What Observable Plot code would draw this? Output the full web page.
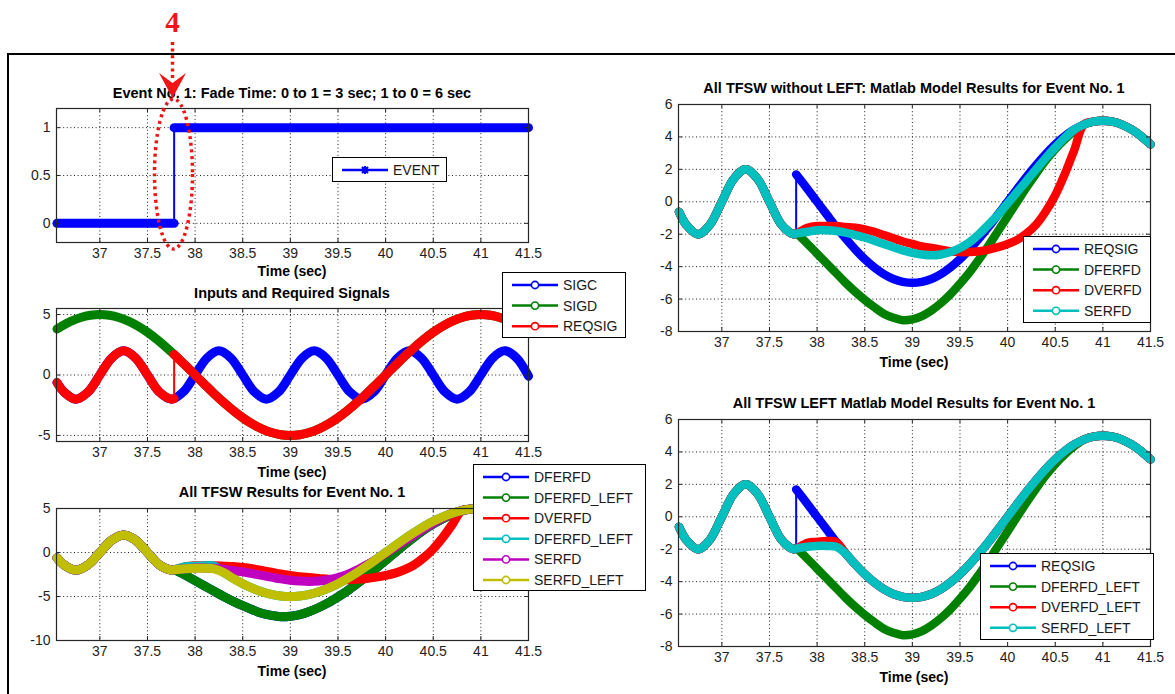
<!DOCTYPE html>
<html>
<head>
<meta charset="utf-8">
<script src="https://cdn.jsdelivr.net/npm/d3@7"></script>
<script src="https://cdn.jsdelivr.net/npm/@observablehq/plot@0.6"></script>
<style>
  body { margin: 0; background: #fff; }
  #fig { position: relative; width: 1175px; height: 694px; overflow: hidden; background: #fff;
         font-family: "Liberation Sans", Arial, Helvetica, sans-serif; }
  .frame { position: absolute; left: 7px; top: 53px; width: 1200px; height: 700px;
           border-left: 2px solid #000; border-top: 2px solid #000; }
  .txt { position: absolute; white-space: nowrap; transform: translate(-50%, -50%); color: #000; line-height: 1; }
  .legend { position: absolute; background: #fff; border: 1px solid #000; box-sizing: border-box; }
  .legend span { position: absolute; font-size: 14px; line-height: 1; transform: translateY(-50%); color: #1a1a1a; white-space: nowrap; }
  .legend svg { position: absolute; left: 0; top: 0; }
</style>
</head>
<body>
<div id="fig"><div class="frame"></div></div>
<script>
// ---------------- DATA ----------------
const xTicks = [37, 37.5, 38, 38.5, 39, 39.5, 40, 40.5, 41, 41.5];
const yTicksEvent = [0, 0.5, 1];
const yTicksInputs = [-5, 0, 5];
const yTicksAll = [-10, -5, 0, 5];
const yTicksRight = [-8, -6, -4, -2, 0, 2, 4, 6];
const switchTime = 37.78;

// EVENT step
const eventTime = [36.55, 37.78, 37.78, 41.5];
const eventValue = [0, 0, 1, 1];

// SIGC (fast signal)
const sigcTime = [36.55, 36.625, 36.75, 36.875, 37, 37.125, 37.25, 37.375, 37.5, 37.625, 37.75, 37.875,
  38, 38.125, 38.25, 38.375, 38.5, 38.625, 38.75, 38.875, 39, 39.125, 39.25, 39.375, 39.5, 39.625, 39.75, 39.875,
  40, 40.125, 40.25, 40.375, 40.5, 40.625, 40.75, 40.875, 41, 41.125, 41.25, 41.375, 41.5];
const sigcValue = [-0.62, -1.41, -2, -1.41, 0, 1.41, 2, 1.41, 0, -1.41, -2, -1.41,
  0, 1.41, 2, 1.41, 0, -1.41, -2, -1.41, 0, 1.41, 2, 1.41, 0, -1.41, -2, -1.41,
  0, 1.41, 2, 1.41, 0, -1.41, -2, -1.41, 0, 1.41, 2, 1.41, -0.1];

// SIGD before the switch
const sigdEarlyTime = [36.55, 36.6, 36.7, 36.8, 36.9, 37.0, 37.1, 37.2, 37.3, 37.4, 37.5, 37.6, 37.7];
const sigdEarlyValue = [3.8, 4.05, 4.46, 4.76, 4.94, 5, 4.94, 4.76, 4.46, 4.05, 3.54, 2.94, 2.27];

// common part before the switch (all outputs follow SIGC)
const preTime = [36.55, 36.625, 36.75, 36.875, 37, 37.125, 37.25, 37.375, 37.5, 37.625, 37.75, 37.78];
const preValue = [-0.62, -1.41, -2, -1.41, 0, 1.41, 2, 1.41, 0, -1.41, -2, -1.96];

// fade window
const fadeTime = [37.78, 37.9, 38.0, 38.1, 38.2, 38.3, 38.4, 38.5, 38.6, 38.7, 38.8, 38.9, 39.0, 39.1, 39.2,
  39.3, 39.4, 39.5, 39.6, 39.7, 39.8, 39.9, 40.0, 40.1, 40.2, 40.3, 40.4, 40.5, 40.6, 40.7, 40.8];
const reqsigFade = [1.69, 0.78, 0, -0.78, -1.55, -2.27, -2.94, -3.54, -4.05, -4.46, -4.76, -4.94, -5, -4.94, -4.76,
  -4.46, -4.05, -3.54, -2.94, -2.27, -1.55, -0.78, 0, 0.78, 1.55, 2.27, 2.94, 3.54, 4.05, 4.46, 4.76];
const dferfdFade = [-1.96, -2.6, -3.2, -3.8, -4.4, -5.0, -5.55, -6.05, -6.5, -6.9, -7.15, -7.3, -7.25, -7.05, -6.7,
  -6.25, -5.7, -5.05, -4.35, -3.55, -2.7, -1.8, -0.9, 0.0, 0.9, 1.75, 2.55, 3.25, 3.85, 4.35, 4.76];
const dverfdFade = [-1.96, -1.6, -1.5, -1.5, -1.5, -1.55, -1.6, -1.7, -1.85, -2.05, -2.25, -2.45, -2.6, -2.75, -2.85,
  -2.95, -3.05, -3.1, -3.1, -3.05, -2.95, -2.8, -2.6, -2.35, -1.95, -1.4, -0.6, 0.4, 1.7, 3.2, 4.76];
const serfdFade = [-1.96, -1.85, -1.75, -1.75, -1.8, -1.9, -2.05, -2.2, -2.4, -2.6, -2.8, -3.0, -3.15, -3.25, -3.3,
  -3.25, -3.1, -2.85, -2.5, -2.0, -1.4, -0.8, -0.1, 0.6, 1.3, 2.0, 2.7, 3.35, 3.95, 4.45, 4.76];
const dverfdLeftFade = [-1.96, -1.6, -1.55, -1.5, -1.55, -2.27, -2.94, -3.54, -4.05, -4.46, -4.76, -4.94, -5, -4.94, -4.76,
  -4.46, -4.05, -3.54, -2.94, -2.27, -1.55, -0.78, 0, 0.78, 1.55, 2.27, 2.94, 3.54, 4.05, 4.46, 4.76];
const serfdLeftFade = [-1.96, -1.85, -1.8, -1.8, -1.85, -2.27, -2.94, -3.54, -4.05, -4.46, -4.76, -4.94, -5, -4.94, -4.76,
  -4.46, -4.05, -3.54, -2.94, -2.27, -1.55, -0.78, 0, 0.78, 1.55, 2.27, 2.94, 3.54, 4.05, 4.46, 4.76];

// after the fade (all outputs follow SIGD)
const postTime = [40.9, 41.0, 41.1, 41.2, 41.3, 41.4, 41.5];
const postValue = [4.94, 5, 4.94, 4.76, 4.46, 4.05, 3.54];

// legend labels
const legendEvent = ["EVENT"];
const legendInputs = ["SIGC", "SIGD", "REQSIG"];
const legendAll = ["DFERFD", "DFERFD_LEFT", "DVERFD", "DFERFD_LEFT", "SERFD", "SERFD_LEFT"];
const legendNoLeft = ["REQSIG", "DFERFD", "DVERFD", "SERFD"];
const legendLeft = ["REQSIG", "DFERFD_LEFT", "DVERFD_LEFT", "SERFD_LEFT"];

// ---------------- BUILD ----------------
const C = {blue: "#0000ff", green: "#008000", red: "#ff0000", cyan: "#00bfbf", magenta: "#bf00bf", yellow: "#bfbf00"};
const xDomain = [36.545, 41.5];
const FONT = '"Liberation Sans", Arial, Helvetica, sans-serif';
const fig = document.getElementById("fig");

function rowsFrom(parts) {
  const out = [];
  for (const [ts, vs, seg] of parts) {
    ts.forEach((t, i) => {
      const last = out[out.length - 1];
      if (last && last.t === t && last.v === vs[i]) return;
      out.push({t, v: vs[i], seg});
    });
  }
  return out;
}

const EVENT = eventTime.map((t, i) => ({t, v: eventValue[i], seg: eventValue[i]}));
const SIGC = rowsFrom([[sigcTime, sigcValue, 0]]);
const SIGD = rowsFrom([[sigdEarlyTime, sigdEarlyValue, 0], [fadeTime, reqsigFade, 0], [postTime, postValue, 0]]);
const REQSIG = rowsFrom([[preTime, preValue, 0], [fadeTime, reqsigFade, 1], [postTime, postValue, 1]]);
const DFERFD = rowsFrom([[preTime, preValue, 0], [fadeTime, dferfdFade, 0], [postTime, postValue, 0]]);
const DFERFD_LEFT = DFERFD;
const DVERFD = rowsFrom([[preTime, preValue, 0], [fadeTime, dverfdFade, 0], [postTime, postValue, 0]]);
const SERFD = rowsFrom([[preTime, preValue, 0], [fadeTime, serfdFade, 0], [postTime, postValue, 0]]);
const DVERFD_LEFT = rowsFrom([[preTime, preValue, 0], [fadeTime, dverfdLeftFade, 0], [postTime, postValue, 0]]);
const SERFD_LEFT = rowsFrom([[preTime, preValue, 0], [fadeTime, serfdLeftFade, 0], [postTime, postValue, 0]]);

function trace(rows, color, w, curve = "catmull-rom") {
  return [
    Plot.line(rows, {x: "t", y: "v", z: "seg", stroke: color, strokeWidth: w, curve,
      strokeLinecap: "round", strokeLinejoin: "round"}),
    Plot.line(rows.filter(d => d.t === switchTime), {x: "t", y: "v", stroke: color, strokeWidth: 2})
  ];
}

function panel(box, yDomain, yTicks, marks) {
  const ml = 50, mr = 12, mt = 12, mb = 30;
  const w = box.x2 - box.x1, h = box.y2 - box.y1;
  const svg = Plot.plot({
    width: w + ml + mr, height: h + mt + mb,
    marginLeft: ml, marginRight: mr, marginTop: mt, marginBottom: mb,
    x: {domain: xDomain}, y: {domain: yDomain},
    style: {fontFamily: FONT, fontSize: "14px", color: "#1e1e1e", background: "transparent", overflow: "visible"},
    marks: [
      Plot.ruleX(xTicks, {stroke: "#1e1e1e", strokeWidth: 1, strokeDasharray: "1,2.6"}),
      Plot.ruleY(yTicks, {stroke: "#1e1e1e", strokeWidth: 1, strokeDasharray: "1,2.6"}),
      ...marks,
      Plot.frame({stroke: "#262626", strokeWidth: 1.2}),
      Plot.tickX(xTicks, {stroke: "#262626", insetTop: h - 4}),
      Plot.tickX(xTicks, {stroke: "#262626", insetBottom: h - 4}),
      Plot.tickY(yTicks, {stroke: "#262626", insetRight: w - 4}),
      Plot.tickY(yTicks, {stroke: "#262626", insetLeft: w - 4}),
      Plot.axisX(xTicks, {tickSize: 0, tickPadding: 6, label: null, tickFormat: d => String(d)}),
      Plot.axisY(yTicks, {tickSize: 0, tickPadding: 6, label: null, tickFormat: d => String(d)})
    ]
  });
  svg.style.position = "absolute";
  svg.style.left = (box.x1 - ml) + "px";
  svg.style.top = (box.y1 - mt) + "px";
  fig.appendChild(svg);
}

function label(str, cx, cy, size = 14, bold = true) {
  const d = document.createElement("div");
  d.className = "txt";
  d.textContent = str;
  d.style.left = cx + "px";
  d.style.top = cy + "px";
  d.style.fontSize = size + "px";
  d.style.fontWeight = bold ? "bold" : "normal";
  fig.appendChild(d);
}

function legend(x, y, w, h, names, colors, marker = "o") {
  const d = document.createElement("div");
  d.className = "legend";
  Object.assign(d.style, {left: x + "px", top: y + "px", width: w + "px", height: h + "px"});
  const ns = "http://www.w3.org/2000/svg";
  const svg = document.createElementNS(ns, "svg");
  svg.setAttribute("width", w); svg.setAttribute("height", h);
  names.forEach((name, i) => {
    const cy = 12 + i * 20.6;
    const ln = document.createElementNS(ns, "line");
    Object.entries({x1: 9, x2: 55, y1: cy, y2: cy, stroke: colors[i], "stroke-width": 2.5}).forEach(([k, v]) => ln.setAttribute(k, v));
    svg.appendChild(ln);
    if (marker === "o") {
      const c = document.createElementNS(ns, "circle");
      Object.entries({cx: 32, cy, r: 3.6, fill: "#fff", stroke: colors[i], "stroke-width": 1.6}).forEach(([k, v]) => c.setAttribute(k, v));
      svg.appendChild(c);
    } else {
      const p = document.createElementNS(ns, "path");
      p.setAttribute("d", `M28,${cy}H36M32,${cy - 4}V${cy + 4}M29,${cy - 3}L35,${cy + 3}M29,${cy + 3}L35,${cy - 3}`);
      p.setAttribute("stroke", colors[i]); p.setAttribute("stroke-width", 2.2);
      svg.appendChild(p);
    }
    const s = document.createElement("span");
    s.textContent = name;
    s.style.left = "60px";
    s.style.top = cy + "px";
    d.appendChild(s);
  });
  d.insertBefore(svg, d.firstChild);
  fig.appendChild(d);
}

// ---- panel 1: EVENT ----
const B1 = {x1: 56, x2: 528, y1: 108, y2: 242};
panel(B1, [-0.2, 1.2], yTicksEvent, [...trace(EVENT, C.blue, 9, "linear")]);
label("Event No. 1: Fade Time: 0 to 1 = 3 sec; 1 to 0 = 6 sec", 292, 93, 14.5);
label("Time (sec)", 292, 271, 14);
legend(332, 157, 115, 25, legendEvent, [C.blue], "*");

// ---- panel 2: inputs ----
const B2 = {x1: 56, x2: 528, y1: 308, y2: 441};
panel(B2, [-5.5, 5.5], yTicksInputs, [
  ...trace(SIGC, C.blue, 9), ...trace(SIGD, C.green, 9), ...trace(REQSIG, C.red, 9)
]);
label("Inputs and Required Signals", 292, 292.5, 14.5);
label("Time (sec)", 292, 471.5, 14);
legend(502, 272, 124, 66, legendInputs, [C.blue, C.green, C.red]);

// ---- panel 3: all TFSW ----
const B3 = {x1: 56, x2: 528, y1: 508, y2: 640};
panel(B3, [-10, 5], yTicksAll, [
  ...trace(DFERFD, C.blue, 9), ...trace(DFERFD_LEFT, C.green, 9), ...trace(DVERFD, C.red, 9),
  ...trace(DVERFD_LEFT, C.cyan, 9), ...trace(SERFD, C.magenta, 9), ...trace(SERFD_LEFT, C.yellow, 9)
]);
label("All TFSW Results for Event No. 1", 292, 492, 14.5);
label("Time (sec)", 292, 671, 14);
legend(473, 464, 173, 127, legendAll, [C.blue, C.green, C.red, C.cyan, C.magenta, C.yellow]);

// ---- panel 4: without LEFT ----
const B4 = {x1: 678, x2: 1150, y1: 104, y2: 331};
panel(B4, [-8, 6], yTicksRight, [
  ...trace(REQSIG, C.blue, 8.5), ...trace(DFERFD, C.green, 8.5), ...trace(DVERFD, C.red, 8.5), ...trace(SERFD, C.cyan, 8.5)
]);
label("All TFSW without LEFT: Matlab Model Results for Event No. 1", 914, 88.3, 14.5);
label("Time (sec)", 914, 361.7, 14);
legend(1023, 236, 128, 87, legendNoLeft, [C.blue, C.green, C.red, C.cyan]);

// ---- panel 5: LEFT ----
const B5 = {x1: 678, x2: 1150, y1: 419, y2: 646};
panel(B5, [-8, 6], yTicksRight, [
  ...trace(REQSIG, C.blue, 8.5), ...trace(DFERFD_LEFT, C.green, 8.5), ...trace(DVERFD_LEFT, C.red, 8.5), ...trace(SERFD_LEFT, C.cyan, 8.5)
]);
label("All TFSW LEFT Matlab Model Results for Event No. 1", 914, 402.7, 14.5);
label("Time (sec)", 914, 676.7, 14);
legend(980, 553, 174, 87, legendLeft, [C.blue, C.green, C.red, C.cyan]);

// ---- red hand annotation ----
const ns = "http://www.w3.org/2000/svg";
const ann = document.createElementNS(ns, "svg");
ann.setAttribute("width", 1175); ann.setAttribute("height", 694);
ann.style.position = "absolute"; ann.style.left = "0"; ann.style.top = "0"; ann.style.pointerEvents = "none";
ann.innerHTML = `
  <text x="172.5" y="32" text-anchor="middle" font-family="'Liberation Serif', 'Times New Roman', serif" font-weight="bold" font-size="29" fill="#f01414">4</text>
  <line x1="172.5" y1="42" x2="172.5" y2="78" stroke="#f01414" stroke-width="3.5" stroke-dasharray="3,3.6"/>
  <path d="M159,73 L172.5,83 L186,73 L172.5,98 Z" fill="#f01414"/>
  <ellipse cx="173.5" cy="174" rx="19" ry="75" fill="none" stroke="#f01414" stroke-width="3.5" stroke-dasharray="3,3.6"/>
`;
fig.appendChild(ann);
</script>
</body>
</html>
